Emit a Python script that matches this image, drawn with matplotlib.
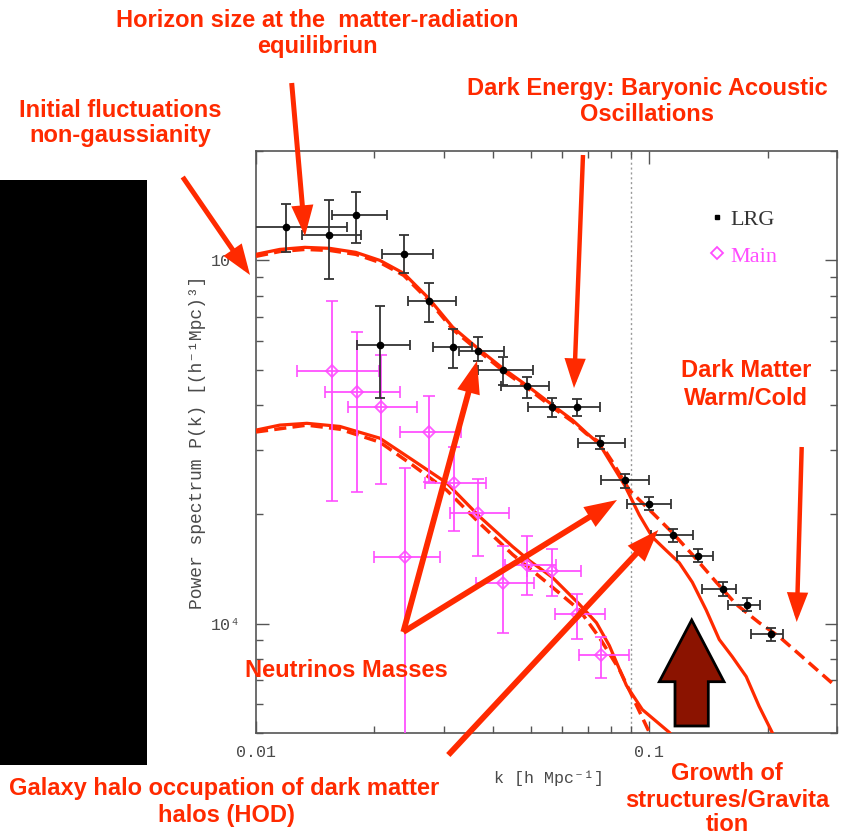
import matplotlib
matplotlib.use("Agg")
import matplotlib.pyplot as plt
import numpy as np
from matplotlib.patches import FancyArrowPatch, Polygon, Rectangle, ArrowStyle
from matplotlib.ticker import LogLocator, NullFormatter, FixedLocator, FixedFormatter

# ---------------- data ----------------
# LRG power spectrum: k, P, P_low, P_high, k_low, k_high
lrg_k = [0.01191, 0.01535, 0.01794, 0.02379, 0.02754, 0.02063, 0.03168, 0.03667, 0.04243, 0.04883,
         0.05662, 0.06536, 0.07486, 0.08663, 0.0996, 0.115, 0.133, 0.1536, 0.177, 0.2044]
lrg_p = [1.238e5, 1.177e5, 1.332e5, 1.044e5, 7.745e4, 5.83e4, 5.77e4, 5.62e4, 5.0e4, 4.5e4,
         3.95e4, 3.95e4, 3.15e4, 2.48e4, 2.14e4, 1.75e4, 1.54e4, 1.244e4, 1.128e4, 9.35e3]
lrg_plo = [1.055e5, 8.88e4, 1.119e5, 9.22e4, 6.76e4, 4.19e4, 5.04e4, 5.30e4, 4.53e4, 4.19e4,
           3.71e4, 3.72e4, 3.02e4, 2.37e4, 2.05e4, 1.68e4, 1.48e4, 1.19e4, 1.08e4, 8.95e3]
lrg_phi = [1.431e5, 1.465e5, 1.544e5, 1.172e5, 8.64e4, 7.50e4, 6.48e4, 6.14e4, 5.42e4, 4.76e4,
           4.17e4, 4.15e4, 3.28e4, 2.58e4, 2.23e4, 1.82e4, 1.60e4, 1.30e4, 1.18e4, 9.75e3]
lrg_klo = [0.0099, 0.01306, 0.01556, 0.02091, 0.02436, 0.01801, 0.02818, 0.03275, 0.03667, 0.04204,
           0.0491, 0.0570, 0.0659, 0.0754, 0.0875, 0.1011, 0.1174, 0.1364, 0.1586, 0.1815]
lrg_khi = [0.01699, 0.01854, 0.02147, 0.02818, 0.03233, 0.02470, 0.0355, 0.0426, 0.05049, 0.0555,
           0.0656, 0.0751, 0.0866, 0.0996, 0.1135, 0.129, 0.1455, 0.1659, 0.1906, 0.2183]

# Main galaxy sample
main_k = [0.01556, 0.01801, 0.02075, 0.02754, 0.03187, 0.03667, 0.02398, 0.04243, 0.04883, 0.05662, 0.06536, 0.07536]
main_p = [4.96e4, 4.34e4, 3.95e4, 3.37e4, 2.445e4, 2.02e4, 1.53e4, 1.29e4, 1.45e4, 1.40e4, 1.06e4, 8.18e3]
main_plo = [2.17e4, 2.30e4, 2.42e4, 2.46e4, 1.80e4, 1.54e4, 4.0e3, 9.42e3, 1.20e4, 1.19e4, 9.1e3, 7.07e3]
main_phi = [7.74e4, 6.37e4, 5.48e4, 4.23e4, 3.07e4, 2.50e4, 2.68e4, 1.64e4, 1.74e4, 1.60e4, 1.21e4, 9.16e3]
main_klo = [0.01273, 0.01497, 0.01715, 0.02321, 0.02685, 0.03118, 0.01997, 0.0363, 0.04305, 0.04873, 0.05743, 0.06614]
main_khi = [0.02055, 0.0233, 0.02571, 0.03327, 0.0385, 0.04393, 0.02942, 0.05078, 0.05787, 0.06701, 0.07727, 0.08892]

# model curves
up_sol_k = [0.01, 0.0115, 0.01331, 0.01541, 0.01794, 0.02064, 0.02375, 0.02749, 0.03162, 0.0366, 0.04236,
            0.04902, 0.05673, 0.06377, 0.06921, 0.07468, 0.08053, 0.08643, 0.09432, 0.1018, 0.1104, 0.1192,
            0.1286, 0.1395, 0.1506, 0.1625, 0.1763, 0.1902, 0.2052, 0.2113]
up_sol_p = [1.039e5, 1.072e5, 1.086e5, 1.079e5, 1.052e5, 1.0e5, 9.21e4, 7.86e4, 6.55e4, 5.73e4, 5.05e4,
            4.51e4, 3.995e4, 3.635e4, 3.35e4, 3.12e4, 2.73e4, 2.41e4, 1.99e4, 1.73e4, 1.59e4, 1.47e4,
            1.30e4, 1.09e4, 9.04e3, 8.11e3, 7.15e3, 5.92e3, 5.02e3, 4.65e3]
up_das_k = [0.01, 0.0115, 0.01331, 0.01541, 0.01794, 0.02064, 0.02375, 0.02749, 0.03162, 0.0366, 0.04236,
            0.04902, 0.05673, 0.06377, 0.06921, 0.07468, 0.08053, 0.08899, 0.1018, 0.1144, 0.1286, 0.148,
            0.1663, 0.1902, 0.2138, 0.2445, 0.2983]
up_das_p = [1.026e5, 1.058e5, 1.072e5, 1.065e5, 1.039e5, 0.987e5, 9.09e4, 7.76e4, 6.46e4, 5.66e4, 4.98e4,
            4.45e4, 3.94e4, 3.60e4, 3.33e4, 3.16e4, 2.79e4, 2.33e4, 2.02e4, 1.78e4, 1.55e4, 1.30e4,
            1.13e4, 1.006e4, 9.21e3, 8.11e3, 6.71e3]
lo_sol_k = [0.01, 0.0115, 0.01347, 0.01634, 0.02064, 0.02503, 0.03053, 0.03703, 0.0449, 0.04959, 0.05673,
            0.06643, 0.07338, 0.07913, 0.08744, 0.09598, 0.1124, 0.1192]
lo_sol_p = [3.41e4, 3.52e4, 3.56e4, 3.49e4, 3.24e4, 2.82e4, 2.44e4, 1.97e4, 1.63e4, 1.49e4, 1.34e4,
            1.13e4, 1.006e4, 8.7e3, 6.76e3, 5.80e3, 5.02e3, 4.65e3]
lo_das_k = [0.01, 0.01347, 0.01634, 0.02064, 0.02503, 0.03053, 0.03703, 0.0449, 0.05478, 0.06643, 0.07468,
            0.08394, 0.09055, 0.1, 0.103]
lo_das_p = [3.37e4, 3.52e4, 3.43e4, 3.16e4, 2.73e4, 2.33e4, 1.89e4, 1.55e4, 1.30e4, 1.09e4, 9.15e3,
            7.47e3, 6.30e3, 5.02e3, 4.65e3]

x_major = [0.01, 0.1]
x_major_labels = ["0.01", "0.1"]
y_major = [1e4, 1e5]
y_major_labels = ["10\u2074", "10\u2075"]

RED = "#ff2a00"
MAG = "#ff4cff"
GRAY = "#4a4a4a"
MONO = ["Liberation Mono", "DejaVu Sans Mono"]

W, H = 846, 838
fig = plt.figure(figsize=(W / 100, H / 100), dpi=100)
fig.patch.set_facecolor("white")
ax = fig.add_axes([256 / W, 1 - 733 / H, (837 - 256) / W, (733 - 151) / H])
ax.set_xscale("log")
ax.set_yscale("log")
ax.set_xlim(0.01, 0.3)
ax.set_ylim(5000, 2e5)

ax.axvline(0.09, color="#999999", ls=(0, (1.5, 2)), lw=1.0, zorder=1)

# curves
ax.plot(up_sol_k, up_sol_p, color=RED, lw=2.3, zorder=3, solid_capstyle="butt")
ax.plot(up_das_k, up_das_p, color=RED, lw=2.5, ls=(0, (3.5, 1.8)), zorder=3)
ax.plot(lo_sol_k, lo_sol_p, color=RED, lw=2.3, zorder=3)
ax.plot(lo_das_k, lo_das_p, color=RED, lw=2.5, ls=(0, (3.5, 1.8)), zorder=3)

# data
def asym(v, lo, hi):
    v = np.asarray(v); return [v - np.asarray(lo), np.asarray(hi) - v]

ax.errorbar(main_k, main_p, yerr=asym(main_p, main_plo, main_phi), xerr=asym(main_k, main_klo, main_khi),
            fmt="D", ms=6.5, mfc="none", mec=MAG, mew=1.3, ecolor=MAG, elinewidth=1.4,
            capsize=4, capthick=1.4, zorder=4, alpha=0.9)
ax.errorbar(lrg_k, lrg_p, yerr=asym(lrg_p, lrg_plo, lrg_phi), xerr=asym(lrg_k, lrg_klo, lrg_khi),
            fmt="o", ms=4.5, color="black", ecolor="#333333", elinewidth=1.3,
            capsize=3.5, capthick=1.3, zorder=5)

# axes styling
for s in ax.spines.values():
    s.set_color("#555555"); s.set_linewidth(1.2)
ax.xaxis.set_major_locator(FixedLocator(x_major))
ax.xaxis.set_major_formatter(FixedFormatter(x_major_labels))
ax.yaxis.set_major_locator(FixedLocator(y_major))
ax.yaxis.set_major_formatter(FixedFormatter(y_major_labels))
ax.xaxis.set_minor_locator(LogLocator(base=10, subs=np.arange(2, 10)))
ax.yaxis.set_minor_locator(LogLocator(base=10, subs=np.arange(2, 10)))
ax.xaxis.set_minor_formatter(NullFormatter())
ax.yaxis.set_minor_formatter(NullFormatter())
ax.tick_params(which="both", direction="in", top=True, right=True, color="#555555", width=1.0)
ax.tick_params(which="major", length=9)
ax.tick_params(which="minor", length=5)
ax.tick_params(axis="x", which="major", pad=8.5, labelsize=12, labelcolor=GRAY)
ax.tick_params(axis="y", which="major", pad=11, labelsize=12, labelcolor=GRAY)
for lab in ax.get_xticklabels() + ax.get_yticklabels():
    lab.set_family(MONO)

ax.set_xlabel("k [h Mpc\u207b\u00b9]", family=MONO, fontsize=12, color=GRAY)
ax.xaxis.set_label_coords(0.505, -0.064)
ax.set_ylabel("Power spectrum P(k) [(h\u207b\u00b9Mpc)\u00b3]", family=MONO, fontsize=13, color=GRAY)
ax.yaxis.set_label_coords(-0.086, 0.5)

# legend (manual)
ax.plot([0.794], [0.886], marker="s", ms=3.5, color="black", transform=ax.transAxes, clip_on=False)
ax.text(0.8158, 0.873, "LRG", transform=ax.transAxes, family="Liberation Serif", fontsize=16,
        color="#333333", va="baseline")
ax.plot([0.794], [0.824], marker="D", ms=6, mfc="none", mec=MAG, mew=1.3, transform=ax.transAxes, clip_on=False)
ax.text(0.8158, 0.81, "Main", transform=ax.transAxes, family="Liberation Serif", fontsize=16,
        color=MAG, va="baseline")

# ---------------- overlays (figure pixel positions) ----------------
def fp(x, y):
    return (x / W, 1 - y / H)

fig.add_artist(Rectangle(fp(0, 765), 147 / W, (765 - 180) / H, transform=fig.transFigure,
                         facecolor="black", edgecolor="none"))

def ftext(x, y, s, size=17):
    fig.text(*fp(x, y), s, color=RED, fontsize=size, fontweight="bold", family="Liberation Sans",
             ha="center", va="baseline")

ftext(317, 27, "Horizon size at the  matter-radiation")
ftext(317, 53, "equilibriun")
ftext(120, 117, "Initial fluctuations")
ftext(120, 142, "non-gaussianity")
ftext(647, 95, "Dark Energy: Baryonic Acoustic")
ftext(647, 121, "Oscillations")
ftext(746, 377, "Dark Matter")
ftext(746, 405, "Warm/Cold")
ftext(346, 677, "Neutrinos Masses")
ftext(224, 795, "Galaxy halo occupation of dark matter")
ftext(226, 822, "halos (HOD)")
ftext(727, 780, "Growth of")
ftext(727, 807, "structures/Gravita")
ftext(727, 831, "tion")

def farrow(p0, p1, lw=3.6):
    style = ArrowStyle("-|>", head_length=0.75, head_width=0.27)
    a = FancyArrowPatch(fp(*p0), fp(*p1), transform=fig.transFigure, arrowstyle=style,
                        mutation_scale=20, color=RED, lw=lw, shrinkA=0, shrinkB=0,
                        capstyle="butt", joinstyle="miter")
    fig.add_artist(a)

farrow((291.7, 83), (305, 236))
farrow((182.7, 177), (250, 275))
farrow((583, 155), (574, 388), lw=3.2)
farrow((801.7, 447), (796.7, 622), lw=3.2)
farrow((403.3, 632), (477, 361), lw=4.2)
farrow((403.3, 632), (617, 500), lw=4.2)
farrow((448.3, 755), (658.3, 530), lw=4.2)

# big dark-red up arrow
pts = [(691.7, 620), (724, 681.7), (708.3, 681.7), (708.3, 726), (675, 726), (675, 681.7), (659.3, 681.7)]
fig.add_artist(Polygon([fp(*p) for p in pts], closed=True, transform=fig.transFigure,
                       facecolor="#8b1300", edgecolor="black", lw=2.0, joinstyle="miter"))

fig.savefig("out.png", dpi=100)
